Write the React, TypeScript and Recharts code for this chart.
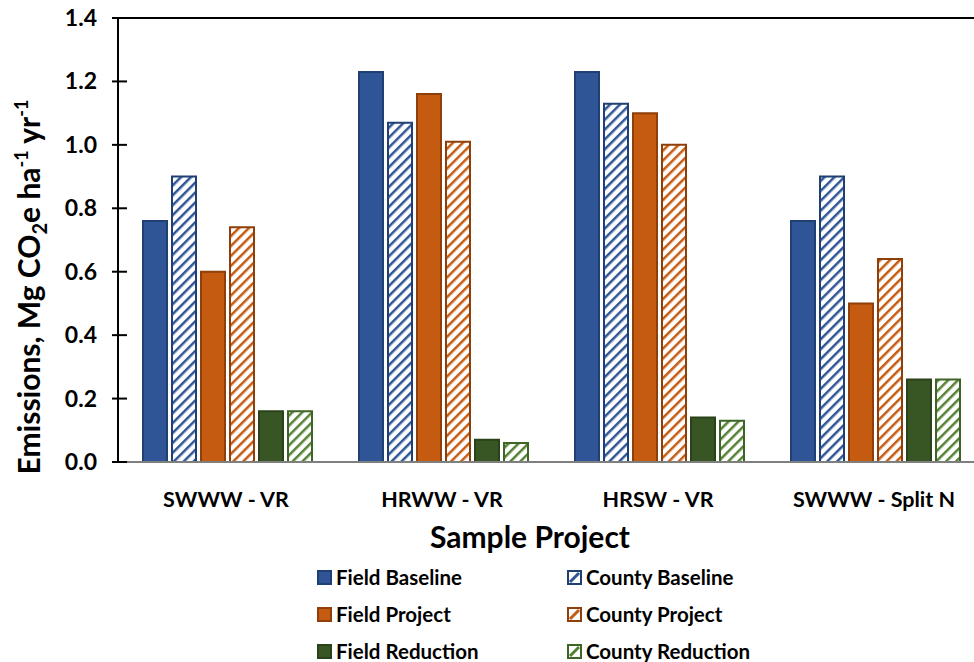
import { BarChart, Bar, XAxis, YAxis, ReferenceLine } from 'recharts';

const categories = ['SWWW - VR', 'HRWW - VR', 'HRSW - VR', 'SWWW - Split N'];
const fieldBaseline = [0.76, 1.23, 1.23, 0.76];
const countyBaseline = [0.9, 1.07, 1.13, 0.9];
const fieldProject = [0.6, 1.16, 1.1, 0.5];
const countyProject = [0.74, 1.01, 1.0, 0.64];
const fieldReduction = [0.16, 0.07, 0.14, 0.26];
const countyReduction = [0.16, 0.06, 0.13, 0.26];
const yTicks = [0, 0.2, 0.4, 0.6, 0.8, 1.0, 1.2, 1.4];

const data = categories.map((name, i) => ({
  name,
  fieldBaseline: fieldBaseline[i],
  countyBaseline: countyBaseline[i],
  fieldProject: fieldProject[i],
  countyProject: countyProject[i],
  fieldReduction: fieldReduction[i],
  countyReduction: countyReduction[i],
}));

const FONT = 'Lato, "Open Sans", sans-serif';

const series = [
  { key: 'fieldBaseline', label: 'Field Baseline', color: '#2F5597', border: '#203F73', hatch: false },
  { key: 'countyBaseline', label: 'County Baseline', color: '#2F5597', border: '#203F73', hatch: true },
  { key: 'fieldProject', label: 'Field Project', color: '#C55A11', border: '#8F3F0A', hatch: false },
  { key: 'countyProject', label: 'County Project', color: '#C55A11', border: '#8F3F0A', hatch: true },
  { key: 'fieldReduction', label: 'Field Reduction', color: '#375623', border: '#2A4219', hatch: false },
  { key: 'countyReduction', label: 'County Reduction', color: '#548235', border: '#3E6426', hatch: true },
];

function YTick(props: any) {
  const { x, y, payload } = props;
  return (
    <g>
      <line x1={x - 6} x2={x + 9} y1={y} y2={y} stroke="#000" strokeWidth={2} />
      <text x={x - 21} y={y} dy={8} textAnchor="end" fontFamily={FONT} fontWeight={700} fontSize={23} fill="#000">
        {payload.value.toFixed(1)}
      </text>
    </g>
  );
}

export default function App() {
  return (
    <div style={{ position: 'absolute', left: 0, top: 0, width: 974, height: 662, overflow: 'hidden', background: '#fff' }}>
      <svg width={0} height={0} style={{ position: 'absolute' }}>
        <defs>
          {series.filter((s) => s.hatch).map((s) => (
            <pattern key={s.key} id={`hatch-${s.key}`} width={7} height={7} patternUnits="userSpaceOnUse" patternTransform="rotate(45)">
              <rect width={7} height={7} fill="#fff" />
              <line x1={0} y1={0} x2={0} y2={7} stroke={s.color} strokeWidth={5} />
            </pattern>
          ))}
        </defs>
      </svg>
      <BarChart
        width={990}
        height={662}
        data={data}
        margin={{ top: 18, right: 8, bottom: 170, left: 0 }}
        barCategoryGap={25}
        barGap={5}
      >
        <XAxis
          dataKey="name"
          height={30}
          axisLine={{ stroke: '#7f7f7f', strokeWidth: 2 }}
          tickLine={false}
          tick={{ fontFamily: FONT, fontWeight: 700, fontSize: 21.5, fill: '#000' }}
          tickMargin={24}
          interval={0}
        />
        <YAxis
          width={118}
          domain={[0, 1.4]}
          ticks={yTicks}
          axisLine={{ stroke: '#000', strokeWidth: 2 }}
          tickLine={false}
          tickSize={0}
          tickMargin={0}
          tick={<YTick />}
          interval={0}
        />
        <ReferenceLine y={1.4} stroke="#000" strokeWidth={2} />
        {series.map((s) => (
          <Bar
            key={s.key}
            dataKey={s.key}
            fill={s.hatch ? `url(#hatch-${s.key})` : s.color}
            stroke={s.border}
            strokeWidth={2}
            isAnimationActive={false}
          />
        ))}
      </BarChart>
      <svg width={974} height={662} style={{ position: 'absolute', left: 0, top: 0, pointerEvents: 'none' }}>
        <text
          transform="translate(40 287) rotate(-90)"
          textAnchor="middle"
          fontFamily={FONT}
          fontWeight={700}
          fontSize={30}
          fill="#000"
        >
          Emissions, Mg CO
          <tspan fontSize={20} dy={7}>2</tspan>
          <tspan dy={-7}>e ha</tspan>
          <tspan fontSize={18} dy={-12}>-1</tspan>
          <tspan dy={12}> yr</tspan>
          <tspan fontSize={18} dy={-12}>-1</tspan>
        </text>
        <text x={530} y={548} textAnchor="middle" fontFamily={FONT} fontWeight={700} fontSize={30} fill="#000">
          Sample Project
        </text>
        {series.map((s, i) => {
          const col = i % 2;
          const row = Math.floor(i / 2);
          const x = col === 0 ? 318 : 568;
          const y = 571 + row * 37;
          return (
            <g key={s.key}>
              <rect
                x={x}
                y={y}
                width={13}
                height={13}
                fill={s.hatch ? '#fff' : s.color}
                stroke={s.border}
                strokeWidth={2}
              />
              {s.hatch && <line x1={x + 2} y1={y + 11} x2={x + 11} y2={y + 2} stroke={s.color} strokeWidth={3} />}
              <text x={x + 18} y={y + 14} fontFamily={FONT} fontWeight={700} fontSize={20.5} fill="#000">
                {s.label}
              </text>
            </g>
          );
        })}
      </svg>
    </div>
  );
}
